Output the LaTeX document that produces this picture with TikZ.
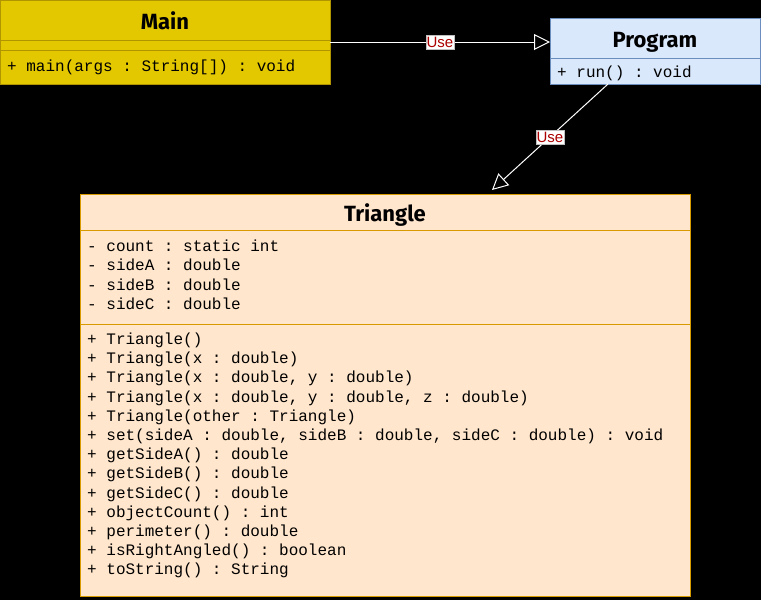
\documentclass[tikz,border=0pt]{standalone}
\usepackage{fontspec}
\setmainfont{Liberation Sans}
\newfontfamily\titlefont{Fira Sans}
\newfontfamily\memberfont{Liberation Mono}
\usetikzlibrary{positioning}
\usetikzlibrary{arrows.meta}
\definecolor{mainfill}{HTML}{E3C800}
\definecolor{mainline}{HTML}{B09500}
\definecolor{progfill}{HTML}{DAE8FC}
\definecolor{progline}{HTML}{6C8EBF}
\definecolor{trifill}{HTML}{FFE6CC}
\definecolor{triline}{HTML}{D79B00}
\definecolor{labelred}{HTML}{AA0000}

\begin{document}
\begin{tikzpicture}[x=1pt,y=-1pt]
        \tikzstyle{part} = [draw, line width=1pt, rectangle, inner sep=0pt, outer sep=0pt, anchor=north west]
        \tikzstyle{ctitle} = [font=\titlefont\bfseries\fontsize{22}{26}\selectfont, text height=15.5pt, text depth=0pt, text=black]
        \tikzstyle{member} = [anchor=west, inner sep=0pt, font=\memberfont\fontsize{16}{19}\selectfont\frenchspacing]
        \tikzstyle{uselabel} = [fill=white, draw=gray!50, line width=0.4pt, inner xsep=0.5pt, inner ysep=2pt, text=labelred, font=\fontsize{15}{15}\selectfont]
        \tikzstyle{usearrow} = [draw=white, line width=1pt, -{Triangle[open,length=16pt,width=16pt]}]

        \fill[black] (0,0) rectangle (761,600);
        \useasboundingbox (0,0) rectangle (761,600);

        % Main
        \node[part, ctitle, fill=mainfill, draw=mainline, minimum width=330pt, minimum height=40pt] (maintitle) at (0,0) {\raisebox{-2pt}{Main}};
        \node[part, fill=mainfill, draw=mainline, minimum width=330pt, minimum height=10pt, below=0pt of maintitle.south west, anchor=north west] (mainattr) {};
        \node[part, fill=mainfill, draw=mainline, minimum width=330pt, minimum height=34pt, below=0pt of mainattr.south west, anchor=north west] (mainops) {};
        \node[member] (mainop1) at ([shift={(7,17)}]mainops.north west) {+ main(args : String[]) : void};

        % Program
        \node[part, ctitle, fill=progfill, draw=progline, minimum width=210pt, minimum height=40pt] (progtitle) at (550,18) {\raisebox{-2pt}{Program}};
        \node[part, fill=progfill, draw=progline, minimum width=210pt, minimum height=26pt, below=0pt of progtitle.south west, anchor=north west] (progops) {};
        \node[member] (progop1) at ([shift={(7,15)}]progops.north west) {+ run() : void};

        % Triangle
        \node[part, ctitle, fill=trifill, draw=triline, minimum width=610pt, minimum height=36pt] (trititle) at (80,194) {\raisebox{-1.5pt}{Triangle}};
        \node[part, fill=trifill, draw=triline, minimum width=610pt, minimum height=94pt, below=0pt of trititle.south west, anchor=north west] (triattr) {};
        \node[part, fill=trifill, draw=triline, minimum width=610pt, minimum height=272pt, below=0pt of triattr.south west, anchor=north west] (triops) {};

        \foreach \at [count=\i] in {{- count : static int}, {- sideA : double}, {- sideB : double}, {- sideC : double}}
          \node[member] (triattr\i) at ([shift={(7,{16+19.3*(\i-1)})}]triattr.north west) {\at};

        \foreach \op [count=\i] in {{+ Triangle()}, {+ Triangle(x : double)}, {+ Triangle(x : double, y : double)},
            {+ Triangle(x : double, y : double, z : double)}, {+ Triangle(other : Triangle)},
            {+ set(sideA : double, sideB : double, sideC : double) : void}, {+ getSideA() : double},
            {+ getSideB() : double}, {+ getSideC() : double}, {+ objectCount() : int},
            {+ perimeter() : double}, {+ isRightAngled() : boolean}, {+ toString() : String}}
          \node[member] (triop\i) at ([shift={(7,{16.5+19.17*(\i-1)})}]triops.north west) {\op};

        % uses
        \coordinate (mainout) at ([yshift=-2pt]maintitle.south east);
        \coordinate (progout) at ([xshift=58pt]progops.south west);
        \coordinate (triin) at ([shift={(412pt,4pt)}]trititle.north west);
        \draw[usearrow] (mainout) -- (mainout -| progtitle.west) node[uselabel, midway] (use1) {Use};
        \draw[usearrow] (progout) -- (triin) node[uselabel, midway] (use2) {Use};
\end{tikzpicture}
\end{document}
